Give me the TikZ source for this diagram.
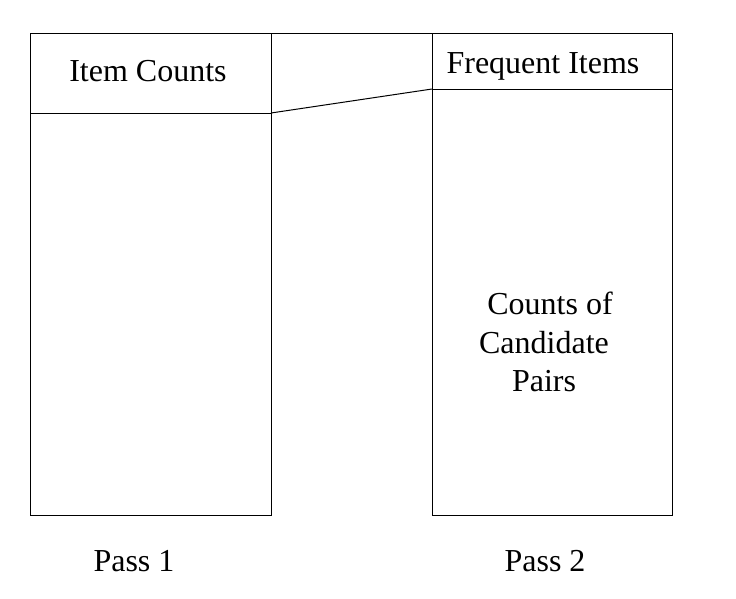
\documentclass[tikz,border=0pt]{standalone}
\usepackage{fontspec}
\setmainfont{Liberation Serif}
\begin{document}
\begin{tikzpicture}[x=1pt,y=-1pt,
  lbl/.style={anchor=base,inner sep=0pt,font=\fontsize{32}{38}\selectfont},
  edge/.style={draw=black,line width=1pt}]
\useasboundingbox (0,0) rectangle (736,598);
% corner coordinates
\coordinate (LTL) at (30,33);
\coordinate (LBR) at (271,515);
\coordinate (RTL) at (432,33);
\coordinate (RBR) at (672,515);
\coordinate (LTR) at (271,33);
\coordinate (LSL) at (30,113);
\coordinate (LSR) at (271,113);
\coordinate (RSL) at (432,89);
\coordinate (RSR) at (672,89);
% boxes
\draw[edge] (LTL) rectangle (LBR);
\draw[edge] (RTL) rectangle (RBR);
\draw[edge] (LTR) -- (RTL);
\draw[edge] (LSL) -- (LSR);
\draw[edge] (RSL) -- (RSR);
\draw[edge] (LSR) -- (RSL);
% labels
\node[lbl] (ic) at (148,81) {Item Counts};
\node[lbl] (fi) at (543,73) {Frequent Items};
\node[lbl] (c1) at (550,314) {Counts of};
\node[lbl] (c2) at (544,353) {Candidate};
\node[lbl] (c3) at (544,391) {Pairs};
\node[lbl] (p1) at (134,571) {Pass 1};
\node[lbl] (p2) at (545,571) {Pass 2};
\end{tikzpicture}
\end{document}
